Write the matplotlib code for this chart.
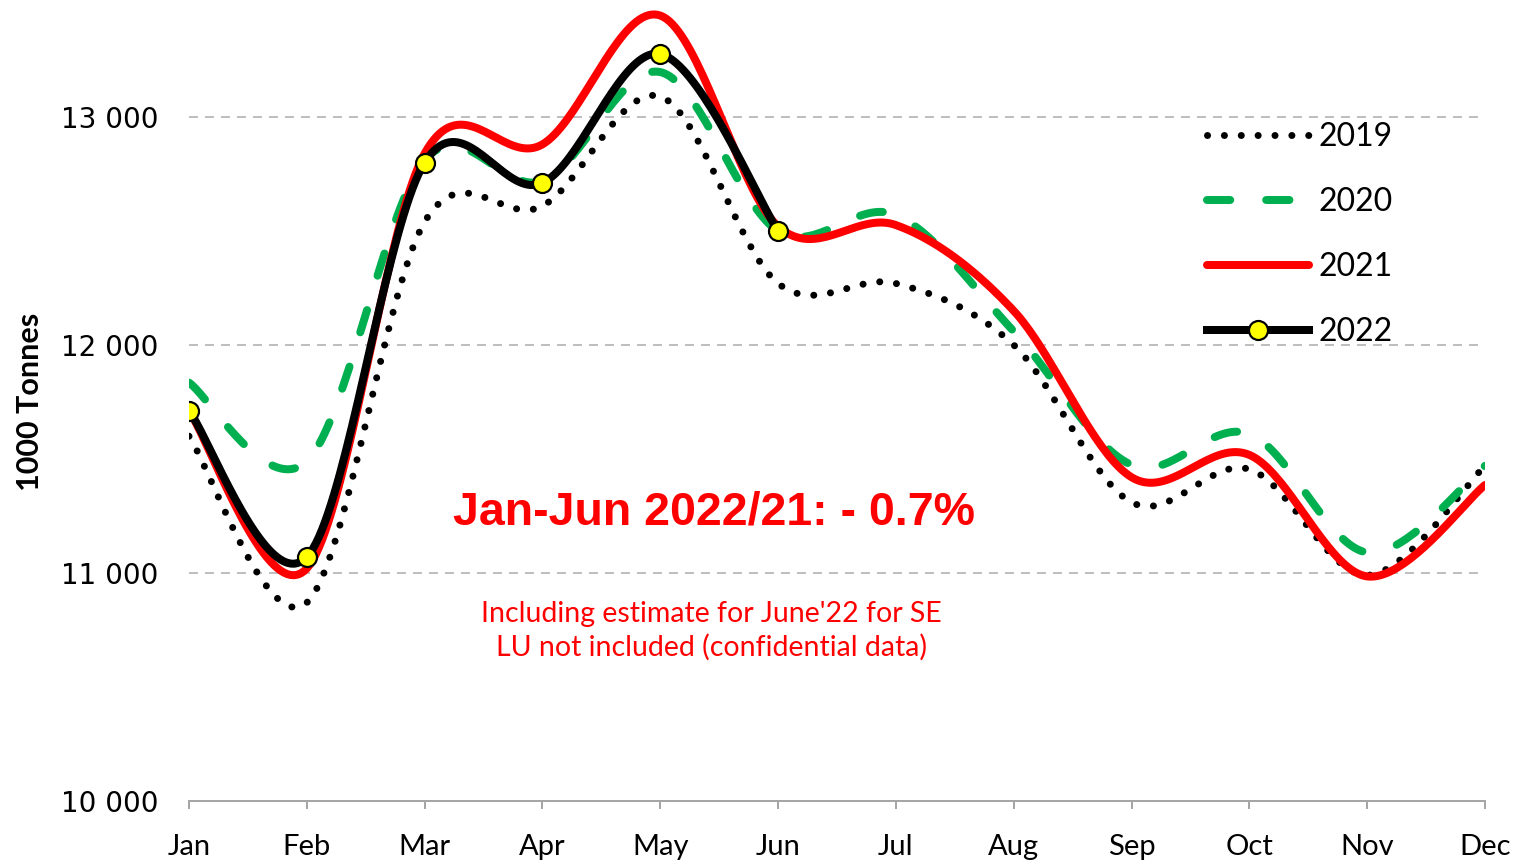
import numpy as np
import matplotlib
matplotlib.use("Agg")
import matplotlib.pyplot as plt
from matplotlib.lines import Line2D

months = ["Jan", "Feb", "Mar", "Apr", "May", "Jun", "Jul", "Aug", "Sep", "Oct", "Nov", "Dec"]
y2019 = [11600, 10870, 12540, 12610, 13090, 12270, 12270, 12000, 11310, 11455, 10990, 11470]
y2020 = [11835, 11490, 12810, 12720, 13197, 12500, 12570, 12060, 11474, 11610, 11090, 11470]
y2021 = [11710, 11020, 12840, 12880, 13445, 12520, 12526, 12150, 11420, 11518, 10985, 11386]
y2022 = [11711, 11070, 12800, 12711, 13276, 12500]
yticks = [10000, 11000, 12000, 13000]
ytick_labels = ["10 000", "11 000", "12 000", "13 000"]


def smooth(xs, ys, n=40):
    """Excel-like smoothed line: cubic Bezier with Catmull-Rom tangents."""
    xs = np.asarray(xs, float)
    ys = np.asarray(ys, float)
    px = np.concatenate([[xs[0]], xs, [xs[-1]]])
    py = np.concatenate([[ys[0]], ys, [ys[-1]]])
    outx, outy = [], []
    t = np.linspace(0, 1, n)
    for i in range(1, len(px) - 2):
        p0 = np.array([px[i], py[i]])
        p3 = np.array([px[i + 1], py[i + 1]])
        c1 = p0 + (np.array([px[i + 1], py[i + 1]]) - np.array([px[i - 1], py[i - 1]])) / 6
        c2 = p3 - (np.array([px[i + 2], py[i + 2]]) - np.array([px[i], py[i]])) / 6
        b = ((1 - t) ** 3)[:, None] * p0 + (3 * (1 - t) ** 2 * t)[:, None] * c1 \
            + (3 * (1 - t) * t ** 2)[:, None] * c2 + (t ** 3)[:, None] * p3
        outx.extend(b[:, 0])
        outy.extend(b[:, 1])
    return np.array(outx), np.array(outy)


W, H = 1517, 863
fig = plt.figure(figsize=(W / 100, H / 100), dpi=100)
ax = fig.add_axes([189 / W, 1 - 801 / H, (1485 - 189) / W, (801 - 3) / H])

x = np.arange(12)
px2pt = 72 / 100

sx, sy = smooth(x, y2019)
ax.plot(sx, sy, color="black", lw=7 * px2pt, linestyle=(0, (0.01, 2.4)),
        dash_capstyle="round", solid_capstyle="round", zorder=3)
sx, sy = smooth(x, y2020)
ax.plot(sx, sy, color="#00B050", lw=8 * px2pt, linestyle=(0, (2.9, 4.5)),
        dash_capstyle="round", zorder=4)
sx, sy = smooth(x, y2021)
ax.plot(sx, sy, color="#FF0000", lw=8 * px2pt, solid_capstyle="round", zorder=5)
x22 = np.arange(len(y2022))
sx, sy = smooth(x22, y2022)
ax.plot(sx, sy, color="black", lw=8 * px2pt, solid_capstyle="round", zorder=6)
ax.plot(x22, y2022, linestyle="none", marker="o", markersize=19 * px2pt,
        markerfacecolor="#FFFF00", markeredgecolor="black",
        markeredgewidth=2.2 * px2pt, zorder=7)

ax.set_xlim(0, 11)
ax.set_ylim(10000, 13500)
ax.set_xticks(x)
ax.set_xticklabels(months, fontsize=21, family="Lato")
ax.set_yticks(yticks)
ax.set_yticklabels(ytick_labels, fontsize=20, family="DejaVu Sans")
ax.tick_params(axis="y", length=0, pad=22)
ax.tick_params(axis="x", length=8 * px2pt, width=2 * px2pt, color="#A6A6A6",
               pad=18, direction="out")
for s in ["top", "right", "left"]:
    ax.spines[s].set_visible(False)
ax.spines["bottom"].set_color("#A6A6A6")
ax.spines["bottom"].set_linewidth(2 * px2pt)

for yv in yticks[1:]:
    ax.axhline(yv, color="#BFBFBF", lw=2 * px2pt, linestyle=(0, (4.5, 3.5)), zorder=1)

ax.set_ylabel("1000 Tonnes", fontsize=22, fontweight="bold", family="Lato", labelpad=12)

ax.text(0.405, 0.362, "Jan-Jun 2022/21: - 0.7%", transform=ax.transAxes,
        ha="center", va="center", fontsize=33.5, fontweight="bold",
        color="#FF0000", family="Liberation Sans")
ax.text(0.403, 0.213, "Including estimate for June'22 for SE\nLU not included (confidential data)",
        transform=ax.transAxes, ha="center", va="center", fontsize=20.5,
        color="#FF0000", family="Lato", linespacing=1.3)

handles = [
    Line2D([], [], color="black", lw=7 * px2pt, linestyle=(0, (0.01, 2.4)), dash_capstyle="round"),
    Line2D([], [], color="#00B050", lw=8 * px2pt, linestyle=(0, (2.9, 4.5)), dash_capstyle="round"),
    Line2D([], [], color="#FF0000", lw=8 * px2pt, solid_capstyle="round"),
    Line2D([], [], color="black", lw=8 * px2pt, marker="o", markersize=19 * px2pt,
           markerfacecolor="#FFFF00", markeredgecolor="black", markeredgewidth=2.2 * px2pt),
]
leg = ax.legend(handles, ["2019", "2020", "2021", "2022"], loc="upper left",
                bbox_to_anchor=(1207 / W, 1 - 122 / H), bbox_transform=fig.transFigure,
                frameon=False, prop={"family": "Lato", "size": 23},
                handlelength=3.2, handletextpad=0.3, labelspacing=1.1,
                borderpad=0, borderaxespad=0)
leg.set_zorder(10)

fig.savefig("out.png", dpi=100)
